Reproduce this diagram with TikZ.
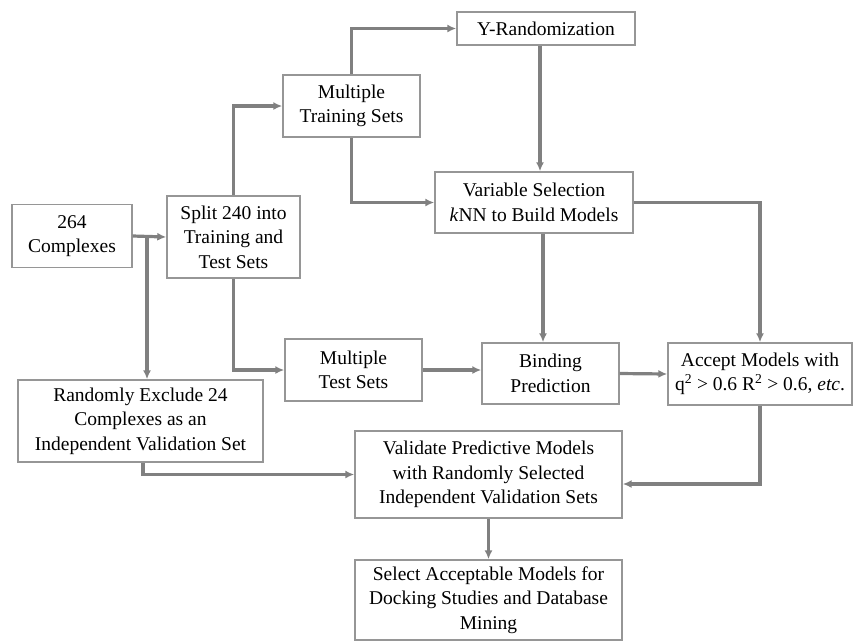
\documentclass[tikz,border=0pt]{standalone}
\usepackage{fontspec}
\setmainfont{Liberation Serif}
\usetikzlibrary{arrows.meta}

\definecolor{boxgray}{RGB}{150,150,150}
\definecolor{linegray}{RGB}{128,128,128}

\tikzset{
  box/.style={draw=boxgray,line width=1.4pt,fill=white,align=center,inner sep=0pt,
    font=\rmfamily\fontsize{19.5}{24.5}\selectfont},
  flow/.style={draw=linegray,line width=3.2pt,->}
}

\begin{document}
\begin{tikzpicture}[x=1pt,y=-1pt,>={Latex[length=9pt,width=8pt]}]
\useasboundingbox (0,0) rectangle (856,641);

\node[box,minimum width=120pt,minimum height=63pt]   (cplx)   at (72,236)      {264\\Complexes};
 \node[box,minimum width=133pt,minimum height=82pt]  (split)  at (233.5,237)   {Split 240 into\\Training and\\Test Sets};
	\node[box,minimum width=137pt,minimum height=62pt] (train)  at (351.5,106)   {Multiple\\Training Sets};
	\node[box,minimum width=178pt,minimum height=33pt] (yrand)  at (546,28.5)    {Y-Randomization};
\node[box,minimum width=198pt,minimum height=61pt]   (varsel) at (534,202.5)   {Variable Selection\\\textit{k}NN to Build Models};
\node[box,minimum width=137pt,minimum height=62pt]   (test)   at (353.5,370)   {Multiple\\Test Sets};
\node[box,minimum width=137pt,minimum height=61pt]   (bind)   at (550.5,373.5) {Binding\\Prediction};
\node[box,minimum width=184pt,minimum height=62pt]   (accept) at (760,374)     {Accept Models with\\q\textsuperscript{2} > 0.6 R\textsuperscript{2} > 0.6, \textit{etc}.};
\node[box,minimum width=245pt,minimum height=82pt]   (excl)   at (140.5,421)   {Randomly Exclude 24\\Complexes as an\\Independent Validation Set};
\node[box,minimum width=267pt,minimum height=87pt]   (valid)  at (488.5,474.5) {Validate Predictive Models\\with Randomly Selected\\Independent Validation Sets};
\node[box,minimum width=267pt,minimum height=80pt]   (select) at (488.5,600)   {Select Acceptable Models for\\Docking Studies and Database\\Mining};

\coordinate (br) at (147,236);

	\draw[flow] (cplx.east) -- (split.west);
	\draw[flow] (br) -- (br |- excl.north);
	\draw[flow] (split.north) |- (train.west);
	\draw[flow] (train.north) |- (yrand.west);
	\draw[flow] (train.south) |- (varsel.west);
	\draw[flow] ([xshift=-6pt]yrand.south) -- ([xshift=-6pt]yrand.south |- varsel.north);
	\draw[flow] (varsel.east) -| (accept.north);
	\draw[flow] ([xshift=9pt]varsel.south) -- ([xshift=9pt]varsel.south |- bind.north);
	\draw[flow] (split.south) |- (test.west);
	\draw[flow] (test.east) -- (test.east -| bind.west);
	\draw[flow] (bind.east) -- (accept.west);
	\draw[flow] (accept.south) |- ([yshift=-9.5pt]valid.east);
	\draw[flow] ([xshift=2.5pt]excl.south) |- (valid.west);
	\draw[flow] (valid.south) -- (select.north);

\end{tikzpicture}
\end{document}
